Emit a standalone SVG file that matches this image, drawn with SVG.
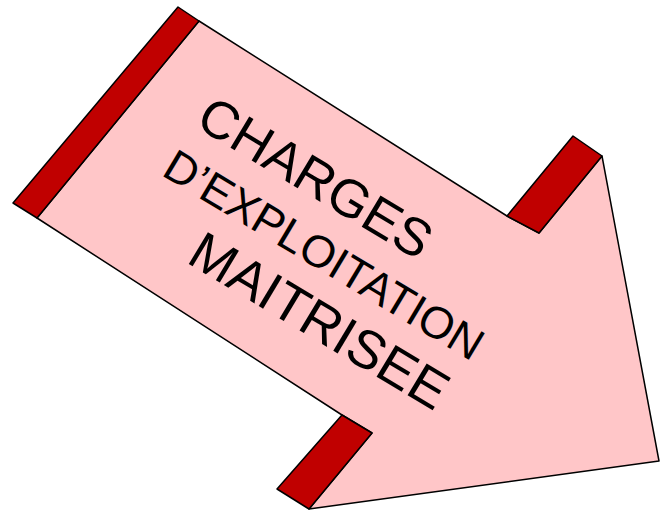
<svg xmlns="http://www.w3.org/2000/svg" width="660" height="513" viewBox="0 0 660 513">
<style>
.body{fill:#FFC6C8;stroke:#000;stroke-width:1.5;stroke-linejoin:round}
.band{fill:#C00000;stroke:#000;stroke-width:1.5;stroke-linejoin:round}
text{font-family:"Liberation Sans",Arial,sans-serif;fill:#000;text-anchor:middle}
</style>
<g id="arrow">
<polygon class="body" points="199,21 507,216 539,233 602,156 659,461 309,509 372,433 342,415 37,218"/>
<polygon class="band" points="178,7 199,21 37,218 13,203"/>
<polygon class="band" points="507,216 573,136 602,156 539,233"/>
<polygon class="band" points="342,415 372,433 309,509 277,489"/>
</g>
<g id="label" transform="rotate(31)">
<text x="362" y="8" font-size="53">CHARGES</text>
<text x="409" y="67" font-size="45">D’EXPLOITATION</text>
<text x="439" y="129" font-size="54">MAITRISEE</text>
</g>
</svg>
